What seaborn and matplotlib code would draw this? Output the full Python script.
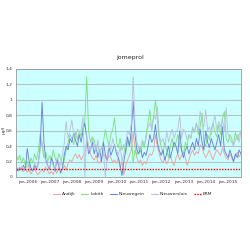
import numpy as np
import pandas as pd
import matplotlib
matplotlib.use("Agg")
import matplotlib.pyplot as plt
import matplotlib.ticker as mticker
from matplotlib.lines import Line2D
import seaborn as sns

title = "jomeprol"
ylabel = "µg/l"
start_month = "2005-07-01"
n_months = 122
tick_years = [2006, 2007, 2008, 2009, 2010, 2011, 2012, 2013, 2014, 2015]
tick_labels = ["jan-%d" % y for y in tick_years]
series_names = ["Andijk", "Lobith", "Nieuwegein", "Nieuwersluis"]
erm_name = "ERM"
erm_value = 0.1

andijk = [0.10, 0.08, 0.12, 0.09, 0.07, 0.11,
          0.06, 0.09, 0.04, 0.08, 0.12, 0.05, 0.03, 0.07, 0.10, 0.06, 0.13, 0.08,
          0.04, 0.07, 0.03, 0.09, 0.05, 0.12, 0.08, 0.10, 0.15, 0.09, 0.18, 0.22,
          0.20, 0.26, 0.30, 0.24, 0.29, 0.22, 0.27, 0.30, 0.48, 0.40, 0.30, 0.25,
          0.22, 0.28, 0.20, 0.18, 0.24, 0.30, 0.26, 0.21, 0.28, 0.25, 0.19, 0.22,
          0.18, 0.25, 0.12, 0.20, 0.03, 0.15, 0.22, 0.28, 0.35, 0.58, 0.38, 0.25,
          0.18, 0.22, 0.15, 0.20, 0.17, 0.25, 0.30, 0.28, 0.35, 0.55, 0.40, 0.30,
          0.22, 0.18, 0.25, 0.17, 0.22, 0.28, 0.20, 0.15, 0.25, 0.30, 0.22, 0.28,
          0.32, 0.25, 0.15, 0.22, 0.30, 0.35, 0.28, 0.33, 0.30, 0.42, 0.38, 0.30,
          0.25, 0.30, 0.35, 0.28, 0.22, 0.30, 0.35, 0.32, 0.28, 0.38, 0.30, 0.25,
          0.22, 0.30, 0.25, 0.20, 0.28, 0.32, 0.26, 0.30]

lobith = [0.31, 0.22, 0.28, 0.18, 0.25, 0.15,
          0.20, 0.12, 0.25, 0.18, 0.30, 0.22, 0.35, 0.56, 0.40, 0.25, 0.32, 0.20,
          0.28, 0.22, 0.35, 0.25, 0.18, 0.30, 0.24, 0.15, 0.22, 0.35, 0.45, 0.55,
          0.50, 0.42, 0.58, 0.48, 0.60, 0.52, 0.65, 0.72, 1.30, 0.60, 0.45, 0.52,
          0.48, 0.35, 0.42, 0.30, 0.38, 0.45, 0.61, 0.50, 0.40, 0.55, 0.62, 0.77,
          0.45, 0.38, 0.50, 0.35, 0.42, 0.30, 0.48, 0.40, 0.55, 0.18, 0.35, 0.28,
          0.40, 0.32, 0.45, 0.38, 0.55, 0.70, 0.87, 0.60, 0.78, 1.00, 0.75, 0.50,
          0.40, 0.30, 0.45, 0.35, 0.25, 0.40, 0.50, 0.38, 0.45, 0.55, 0.42, 0.35,
          0.30, 0.45, 0.40, 0.55, 0.50, 0.62, 0.58, 0.70, 0.55, 0.65, 0.83, 0.45,
          0.40, 0.55, 0.48, 0.62, 0.70, 0.58, 0.52, 0.68, 0.55, 0.75, 0.85, 0.50,
          0.45, 0.55, 0.50, 0.42, 0.58, 0.48, 0.55, 0.60]

nieuwegein = [0.10, 0.08, 0.12, 0.10, 0.15, 0.09,
              0.37, 0.20, 0.12, 0.08, 0.15, 0.10, 0.18, 0.40, 0.97, 0.45, 0.22, 0.15,
              0.10, 0.25, 0.18, 0.08, 0.22, 0.15, 0.05, 0.12, 0.30, 0.40, 0.35, 0.50,
              0.45, 0.57, 0.48, 0.40, 0.55, 0.45, 0.60, 0.70, 0.50, 0.30, 0.35, 0.45,
              0.30, 0.40, 0.25, 0.35, 0.20, 0.45, 0.30, 0.22, 0.38, 0.28, 0.35, 0.42,
              0.30, 0.25, 0.15, 0.02, 0.20, 0.35, 0.52, 0.40, 0.60, 0.98, 0.55, 0.35,
              0.30, 0.38, 0.25, 0.32, 0.28, 0.40, 0.55, 0.45, 0.50, 0.68, 0.45, 0.35,
              0.28, 0.35, 0.22, 0.30, 0.40, 0.25, 0.35, 0.45, 0.40, 0.30, 0.60, 0.35,
              0.25, 0.35, 0.40, 0.30, 0.38, 0.45, 0.35, 0.50, 0.40, 0.62, 0.45, 0.35,
              0.60, 0.45, 0.38, 0.50, 0.42, 0.35, 0.45, 0.55, 0.40, 0.65, 0.35, 0.30,
              0.25, 0.35, 0.28, 0.20, 0.30, 0.25, 0.35, 0.30]

nieuwersluis = [0.10, 0.12, 0.09, 0.14, 0.11, 0.10,
                0.15, 0.12, 0.08, 0.10, 0.18, 0.12, 0.20, 0.35, 0.45, 0.30, 0.20, 0.15,
                0.12, 0.20, 0.15, 0.10, 0.25, 0.20, 0.15, 0.30, 0.45, 0.72, 0.50, 0.60,
                0.74, 0.55, 0.50, 0.62, 0.58, 0.60, 0.78, 0.00, 0.55, 0.40, 0.35, 0.50,
                0.42, 0.35, 0.48, 0.30, 0.40, 0.38, 0.00, 0.25, 0.45, 0.35, 0.50, 0.40,
                0.35, 0.28, 0.40, 0.20, 0.30, 0.45, 0.60, 0.55, 0.70, 1.30, 0.65, 0.45,
                0.40, 0.35, 0.48, 0.42, 0.50, 0.65, 0.70, 0.62, 0.80, 0.75, 0.91, 0.55,
                0.45, 0.50, 0.38, 0.60, 0.45, 0.55, 0.62, 0.50, 0.58, 0.62, 0.80, 0.50,
                0.62, 0.58, 0.48, 0.55, 0.50, 0.65, 0.58, 0.70, 0.60, 0.85, 0.70, 0.65,
                0.87, 0.60, 0.65, 0.55, 0.70, 0.80, 0.60, 0.72, 0.65, 0.75, 0.60, 0.90,
                0.55, 0.50, 0.45, 0.40, 0.48, 0.55, 0.45, 0.60]

colors = ["#eba3a3", "#7ee27e", "#6f80dd", "#bcc0e0"]
erm_color = "#ff0000"

dates = pd.date_range(start_month, periods=n_months, freq="MS")
frames = []
for name, vals in zip(series_names, [andijk, lobith, nieuwegein, nieuwersluis]):
    frames.append(pd.DataFrame({"datum": dates, "waarde": vals, "locatie": name}))
df = pd.concat(frames, ignore_index=True)

sns.set_theme(style="white")
plt.rcParams["font.family"] = ["DejaVu Sans"]

fig = plt.figure(figsize=(2.5, 2.5), dpi=100)
fig.patch.set_facecolor("white")
ax = fig.add_axes([0.064, 0.292, 0.9, 0.432])
ax.set_facecolor("#ccffff")

sns.lineplot(data=df, x="datum", y="waarde", hue="locatie", hue_order=series_names,
             palette=dict(zip(series_names, colors)), linewidth=0.65, ax=ax, legend=False)
ax.plot([dates[0], dates[-1]], [erm_value, erm_value], color=erm_color,
        linestyle=(0, (1, 1)), linewidth=1.0)

ax.set_xlim(dates[0], dates[-1])
ax.set_ylim(0, 1.4)
ax.set_yticks(np.arange(0, 1.41, 0.2))
ax.yaxis.set_major_formatter(mticker.FuncFormatter(
    lambda v, p: ("%g" % round(v, 1)).replace(".", ",")))
ax.set_xticks(pd.to_datetime(["%d-01-01" % y for y in tick_years]))
ax.set_xticklabels(tick_labels)
ax.tick_params(axis="both", labelsize=3.2, length=1.5, width=0.4, pad=1, colors="#333333")
ax.grid(axis="y", color="#a8a8a8", linewidth=0.5)
ax.grid(axis="x", visible=False)
for s in ax.spines.values():
    s.set_color("#999999")
    s.set_linewidth(0.6)
ax.set_xlabel("")
ax.set_ylabel(ylabel, fontsize=3.2, labelpad=2)
ax.yaxis.set_label_coords(-0.045, 0.44)

fig.text(0.518, 0.772, title, ha="center", va="center", fontsize=4.5)

handles = [Line2D([], [], color=c, linewidth=0.8) for c in colors]
handles.append(Line2D([], [], color=erm_color, linestyle=(0, (1, 1)), linewidth=1.0))
fig.legend(handles, series_names + [erm_name], loc="center", bbox_to_anchor=(0.53, 0.224),
           ncol=5, fontsize=3.2, frameon=False, handlelength=1.6, columnspacing=1.4,
           handletextpad=0.4)

fig.savefig("out.png", dpi=100, facecolor="white")
